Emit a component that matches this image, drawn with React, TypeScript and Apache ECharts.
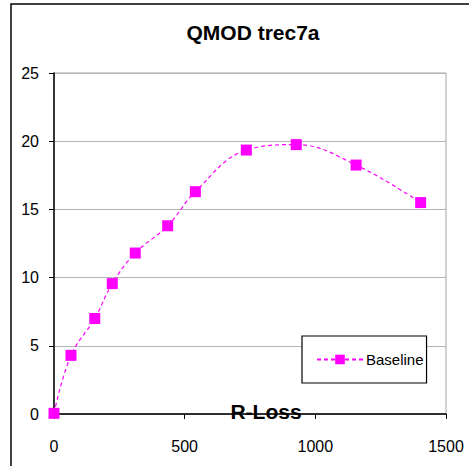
import React, { useEffect, useRef } from "react";
import * as echarts from "echarts";

const chartTitle = "QMOD trec7a";
const xAxisTitle = "R-Loss";
const seriesName = "Baseline";
const xValues = [0, 65, 156, 223, 311, 435, 541, 736, 927, 1156, 1403];
const yValues = [0.05, 4.3, 7.0, 9.56, 11.8, 13.8, 16.3, 19.35, 19.75, 18.25, 15.5];
const xTicks = { min: 0, max: 1500, interval: 500 };
const yTicks = { min: 0, max: 25, interval: 5 };

export default function App() {
  const ref = useRef<HTMLDivElement>(null);
  useEffect(() => {
    if (!ref.current) return;
    const chart = echarts.init(ref.current, undefined, { renderer: "svg" });
    const font = "Liberation Sans, Arial, sans-serif";
    chart.setOption({
      animation: false,
      backgroundColor: "#ffffff",
      textStyle: { fontFamily: font },
      grid: {
        left: 54,
        top: 73,
        right: 23,
        bottom: 52,
        show: true,
        borderColor: "#a6a6a6",
        borderWidth: 1,
        containLabel: false,
      },
      xAxis: {
        type: "value",
        min: xTicks.min,
        max: xTicks.max,
        interval: xTicks.interval,
        axisLine: { show: true, onZero: false, lineStyle: { color: "#000", width: 1.5 } },
        axisTick: { show: true, inside: false, length: 5, lineStyle: { color: "#000" } },
        axisLabel: {
          color: "#000",
          fontSize: 16,
          margin: 24,
          fontFamily: font,
          formatter: (v: number) => String(v),
        },
        splitLine: { show: false },
      },
      yAxis: {
        type: "value",
        min: yTicks.min,
        max: yTicks.max,
        interval: yTicks.interval,
        axisLine: { show: true, onZero: false, lineStyle: { color: "#000", width: 1.5 } },
        axisTick: { show: true, inside: false, length: 5, lineStyle: { color: "#000" } },
        axisLabel: { color: "#000", fontSize: 16, margin: 15, fontFamily: font },
        splitLine: { show: true, lineStyle: { color: "#b4b4b4", width: 1 } },
      },
      legend: {
        show: true,
        left: 302,
        top: 336,
        orient: "vertical",
        padding: [16, 3, 16, 14],
        borderColor: "#000",
        borderWidth: 1.2,
        backgroundColor: "#fff",
        itemWidth: 46,
        itemHeight: 12,
        itemGap: 0,
        textStyle: { color: "#000", fontSize: 15, fontFamily: font, padding: [0, 0, 0, -2] },
        data: [seriesName],
      },
      series: [
        {
          name: seriesName,
          type: "line",
          data: xValues.map((x, i) => [x, yValues[i]]),
          smooth: 0.4,
          symbol: "rect",
          symbolSize: 11,
          itemStyle: { color: "#ff00ff" },
          lineStyle: { color: "#ff00ff", width: 1.2, type: [4, 3] },
        },
      ],
      graphic: [
        {
          type: "rect",
          shape: { x: 11, y: 4, width: 600, height: 600 },
          style: { fill: "none", stroke: "#000", lineWidth: 1.5 },
          silent: true,
          z: -1,
        },
        {
          type: "text",
          x: 253,
          y: 32,
          style: {
            text: chartTitle,
            textAlign: "center",
            textVerticalAlign: "middle",
            font: `bold 21px ${font}`,
            fill: "#000",
          },
        },
        {
          type: "text",
          x: 266,
          y: 411,
          z: 100,
          style: {
            text: xAxisTitle,
            textAlign: "center",
            textVerticalAlign: "middle",
            font: `bold 21px ${font}`,
            fill: "#000",
          },
        },
      ],
    });
    return () => chart.dispose();
  }, []);
  return (
    <div
      ref={ref}
      style={{ position: "fixed", left: 0, top: 0, width: 469, height: 466 }}
    />
  );
}
